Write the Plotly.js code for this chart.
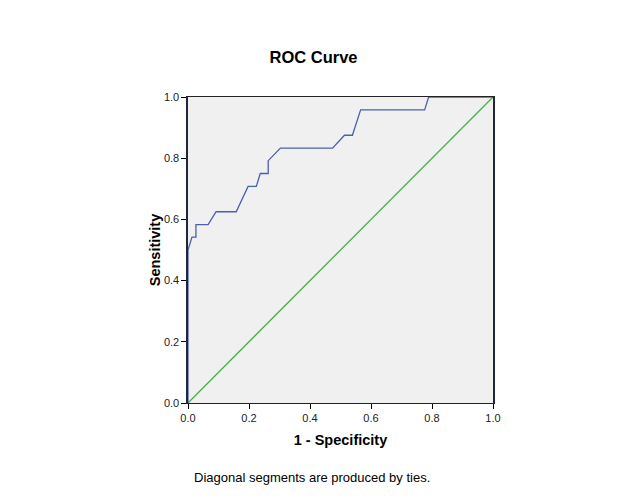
<!DOCTYPE html>
<html>
<head>
<meta charset="utf-8">
<script src="https://cdn.plot.ly/plotly-3.0.1.min.js"></script>
<style>html,body{margin:0;padding:0;background:#fff;}#chart{width:627px;height:502px;}</style>
</head>
<body>
<div id="chart"></div>
<script>
// ROC curve points
var fpr = [0, 0, 0.013, 0.026, 0.026, 0.066, 0.092, 0.158, 0.197, 0.224, 0.237, 0.263, 0.263, 0.303, 0.474, 0.513, 0.539, 0.566, 0.776, 0.789, 1];
var tpr = [0, 0.5, 0.542, 0.542, 0.583, 0.583, 0.625, 0.625, 0.708, 0.708, 0.75, 0.75, 0.792, 0.833, 0.833, 0.875, 0.875, 0.958, 0.958, 1, 1];
var refX = [0, 1];
var refY = [0, 1];
var tickVals = [0, 0.2, 0.4, 0.6, 0.8, 1.0];
var tickText = ['0.0', '0.2', '0.4', '0.6', '0.8', '1.0'];

var font = 'Arial, "Liberation Sans", sans-serif';

var traces = [
  {x: refX, y: refY, mode: 'lines', type: 'scatter', line: {color: '#3cba3c', width: 1.3}, hoverinfo: 'skip'},
  {x: fpr, y: tpr, mode: 'lines', type: 'scatter', line: {color: '#4a5fb0', width: 1.3}}
];

var axisCommon = {
  range: [0, 1],
  tickvals: tickVals,
  ticktext: tickText,
  ticks: 'outside',
  ticklen: 5,
  tickwidth: 1,
  tickcolor: '#000',
  showgrid: false,
  zeroline: false,
  showline: true,
  linecolor: '#222',
  linewidth: 1,
  mirror: true,
  layer: 'above traces',
  tickfont: {family: font, size: 11, color: '#222'},
  fixedrange: true
};

var layout = {
  width: 627,
  height: 502,
  margin: {l: 188, r: 134, t: 97, b: 99},
  paper_bgcolor: '#ffffff',
  plot_bgcolor: '#f0f0f0',
  showlegend: false,
  title: {text: '<b>ROC Curve</b>', font: {family: font, size: 16.5, color: '#000'}, x: 313.5 / 627, xref: 'container', xanchor: 'center', y: 1 - 57/502, yref: 'container', yanchor: 'middle'},
  xaxis: Object.assign({}, axisCommon, {title: {text: '<b>1 - Specificity</b>', font: {family: font, size: 14.5, color: '#000'}, standoff: 11}}),
  yaxis: Object.assign({}, axisCommon, {linecolor: '#20263c', linewidth: 1.6, title: {text: '<b>Sensitivity</b>', font: {family: font, size: 14.5, color: '#000'}, standoff: 0}}),
  annotations: [
    {text: 'Diagonal segments are produced by ties.', xref: 'paper', yref: 'paper', x: (312 - 188) / (493 - 188), xanchor: 'center', y: -(477 - 403) / (403 - 97), yanchor: 'middle', showarrow: false, font: {family: font, size: 13, color: '#000'}}
  ]
};
Plotly.newPlot('chart', traces, layout, {displayModeBar: false, staticPlot: true});
</script>
</body>
</html>
